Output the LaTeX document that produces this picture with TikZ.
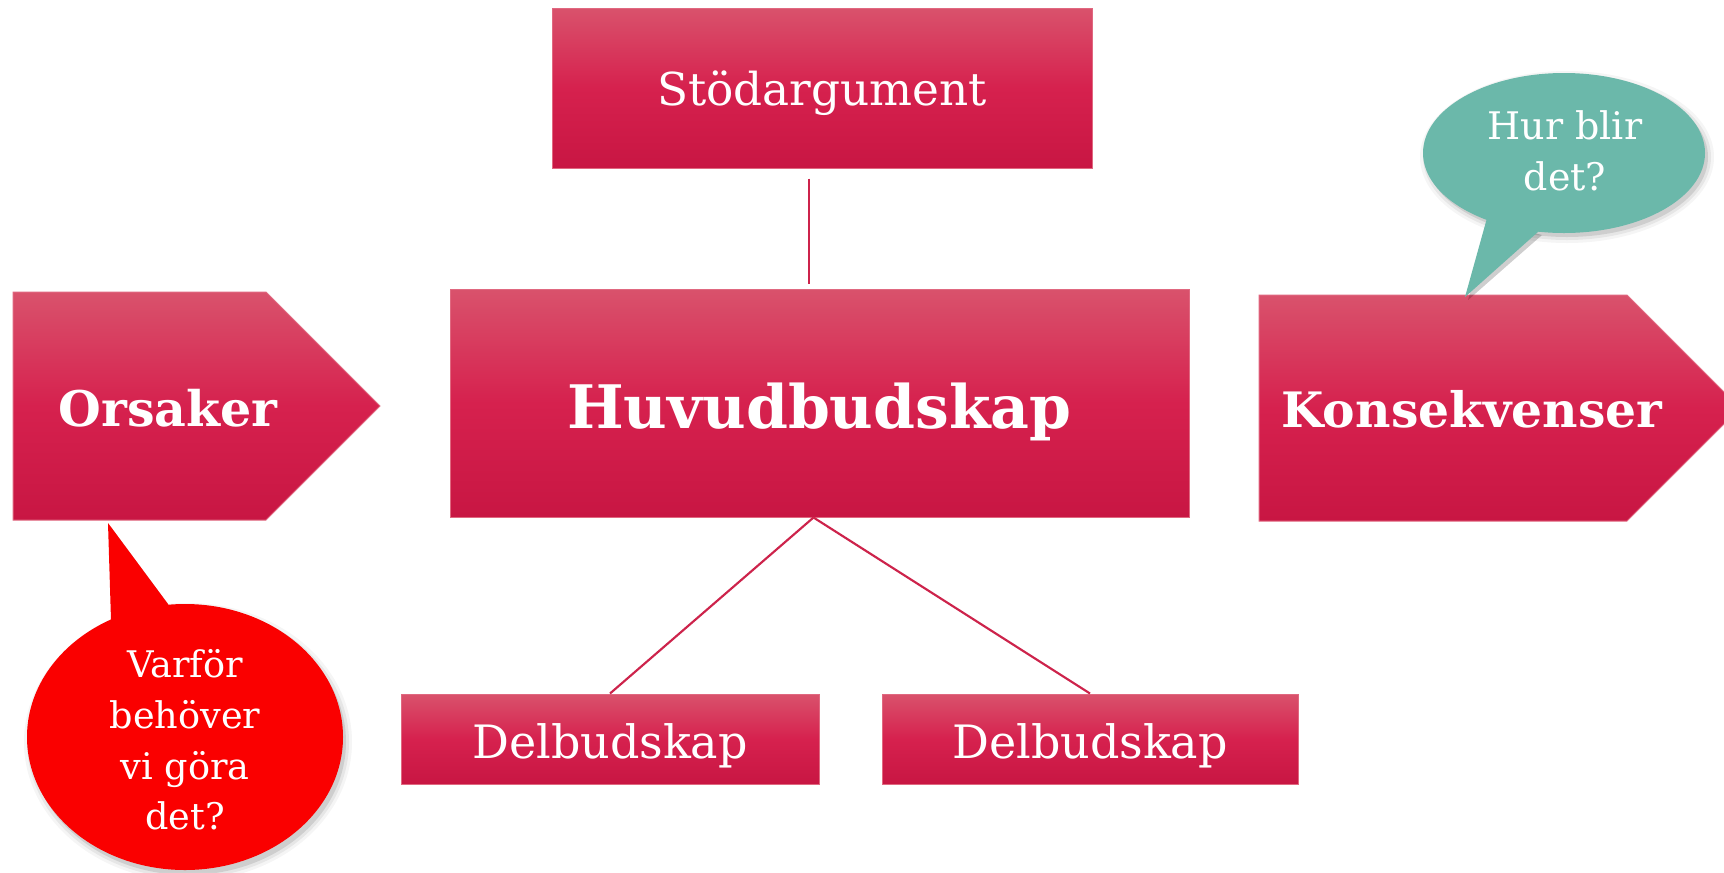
\documentclass[tikz,border=0pt]{standalone}
\usepackage{fontspec}
\setmainfont{DejaVu Serif}
\definecolor{boxtop}{RGB}{217,82,108}
\definecolor{boxmid}{RGB}{214,33,78}
\definecolor{boxbot}{RGB}{200,22,67}
\definecolor{boxedge}{RGB}{224,104,128}
\definecolor{conncol}{RGB}{205,35,75}
\definecolor{bubred}{RGB}{250,0,0}
\definecolor{bubteal}{RGB}{107,184,170}
\newcommand{\lowerby}[2]{\raisebox{-#1}[\height][\depth]{#2}}
\begin{document}
\begin{tikzpicture}[x=0.75pt,y=-0.75pt,
  box/.style={draw=boxedge, line width=0.75pt, top color=boxtop, bottom color=boxbot, middle color=boxmid, text=white, inner sep=0pt},
  lbl/.style={text=white, inner sep=0pt, align=center},
  conn/.style={draw=conncol, line width=1.6pt}]
\useasboundingbox (0,0) rectangle (1724,872);
\fill[white] (0,0) rectangle (1724,872);
\clip (0,0) rectangle (1724,872);

% top box
\node[box, minimum width=405pt, minimum height=120pt, font=\fontsize{34}{40}\selectfont] (stod) at (822,88) {\lowerby{4pt}{Stödargument}};
% main box
\node[box, minimum width=554.25pt, minimum height=171pt, font=\fontsize{45}{52}\selectfont\bfseries] (huvud) at (819.5,403) {\lowerby{6.5pt}{Huvudbudskap}};
% sub boxes
\node[box, minimum width=313.5pt, minimum height=67.5pt, font=\fontsize{34.5}{40}\selectfont] (del1) at (610,739) {\lowerby{5pt}{Delbudskap}};
\node[box, minimum width=312pt, minimum height=67.5pt, font=\fontsize{34.5}{40}\selectfont] (del2) at (1090,739) {\lowerby{5pt}{Delbudskap}};

% chevrons
\draw[box] (13,292) -- (266,292) -- (380,406) -- (266,520) -- (13,520) -- cycle;
\node[lbl, font=\fontsize{36.8}{42}\selectfont\bfseries] (ors) at (168,408) {Orsaker};
\draw[box] (1259,295) -- (1627,295) -- (1740,408) -- (1627,521) -- (1259,521) -- cycle;
\node[lbl, font=\fontsize{36.6}{42}\selectfont\bfseries] (kons) at (1472,409) {Konsekvenser};

% connectors
\draw[conn] ([shift={(-13,10)}]stod.south) -- ([shift={(-10.5,-5)}]huvud.north);
\draw[conn] ([xshift=-4.5pt]huvud.south) -- (del1.north);
\draw[conn] ([xshift=-4.5pt]huvud.south) -- (del2.north);

% red bubble
\foreach \d/\o in {0/0.10,3/0.06,6/0.04}{
  \fill[black, opacity=\o] (188,742) ellipse ({158+\d} and {133+\d});
  \fill[black, opacity=\o] (111,527) -- (114,624) -- (171,608) -- cycle;
}
\fill[bubred] (111,620) -- (108,523) -- (168,604) -- (168,650) -- cycle;
\fill[bubred] (185,737) ellipse (158 and 133);
\node[lbl, font=\fontsize{27.5}{38}\selectfont] (varfor) at (185,740) {Varför\\behöver\\vi göra\\det?};

% teal bubble
\foreach \d/\o in {0/0.10,3/0.06,6/0.04}{
  \fill[black, opacity=\o] (1567,157) ellipse ({141+\d} and {80+\d});
  \fill[black, opacity=\o] (1490,222) -- (1468,300) -- (1542,235) -- cycle;
}
\fill[bubteal] (1487,218) -- (1465,297) -- (1539,231) -- (1540,200) -- cycle;
\fill[bubteal] (1564,153) ellipse (141 and 80);
\node[lbl, font=\fontsize{28.5}{38}\selectfont] (hur) at (1565,151) {Hur blir\\det?};
\end{tikzpicture}
\end{document}
